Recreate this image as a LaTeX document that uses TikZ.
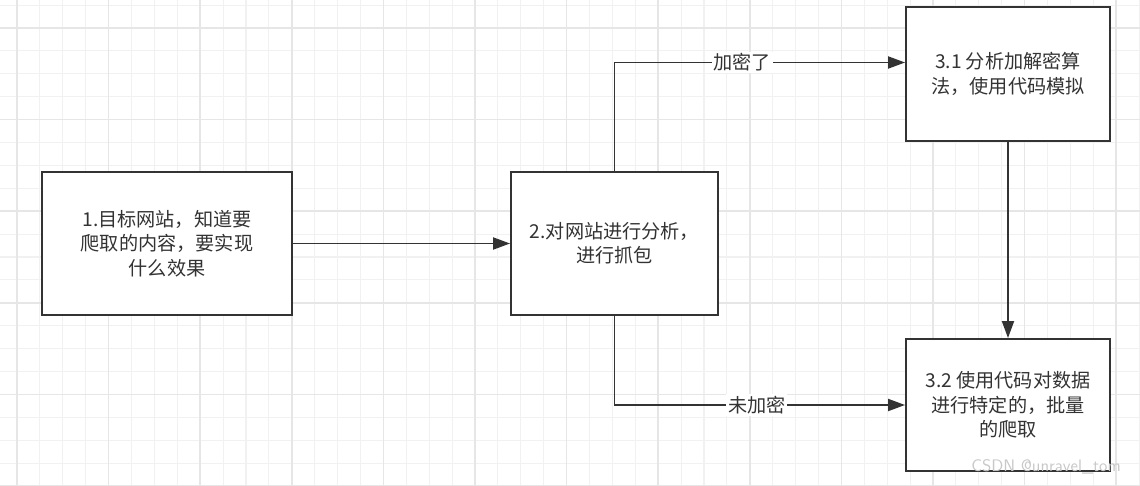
\documentclass[tikz,border=0pt]{standalone}
\usepackage{fontspec}
\newfontfamily\cjk{Noto Sans CJK SC}
\usepackage{tikz}
\usetikzlibrary{arrows.meta}

\definecolor{ink}{HTML}{333333}
\definecolor{gridminor}{HTML}{F1F1F1}
\definecolor{gridmajor}{HTML}{E6E6E6}
\definecolor{mark}{HTML}{C8C8C8}

\tikzset{
  procbox/.style={draw=ink, line width=1.1pt, fill=white, align=center, text=ink,
    font=\cjk\fontsize{10.9}{13.9}\selectfont, inner sep=0pt},
  flow/.style={draw=ink, line width=1.1pt, -{Triangle[length=0.34cm,width=0.24cm]}},
  tag/.style={fill=white, text=ink, font=\cjk\fontsize{10.9}{12}\selectfont, inner sep=1pt},
  minorline/.style={draw=gridminor, line width=0.6pt},
  majorline/.style={draw=gridmajor, line width=0.9pt}
}

\begin{document}
\begin{tikzpicture}[x=0.02cm, y=-0.02cm]
    \useasboundingbox (0,0) rectangle (1140,486);
    \fill[white] (0,0) rectangle (1140,486);
    % grid
    \foreach \i in {-1,...,49} \draw[minorline] ({17+22.9*\i},0) -- ++(0,486);
    \foreach \i in {-1,...,20} \draw[minorline] (0,{28+22.9*\i}) -- ++(1140,0);
    \foreach \i in {0,...,12} \draw[majorline] ({17+91.6*\i},0) -- ++(0,486);
    \foreach \i in {0,...,5} \draw[majorline] (0,{28+91.6*\i}) -- ++(1140,0);

    \node[procbox, minimum width=5cm, minimum height=2.86cm] (target) at (167, 243.5)
      {1.目标网站，知道要\\爬取的内容，要实现\\什么效果};
    \node[procbox, minimum width=4.14cm, minimum height=2.86cm] (analyse) at (614.5, 243.5)
      {2.对网站进行分析，\\进行抓包};
    \node[procbox, minimum width=4.08cm, minimum height=2.68cm] (decrypt) at (1008, 74)
      {3.1 分析加解密算\\法，使用代码模拟};
    \node[procbox, minimum width=4.08cm, minimum height=2.64cm] (crawl) at (1008, 405)
      {3.2 使用代码对数据\\进行特定的，批量\\的爬取};
    \coordinate (encin) at ([yshift=0.23cm]decrypt.west);

    \draw [flow] (target) to (analyse);
    \draw [flow] (analyse.north) |- node[tag, pos=0.72] {加密了} (encin);
    \draw [flow] (analyse.south) |- node[tag, pos=0.745] {未加密} (crawl.west);
    \draw [flow] (decrypt) to (crawl);

    \node[text=mark, font=\fontsize{9.5}{11}\selectfont\sffamily, anchor=east] (sign) at (1127, 467) {CSDN @unravel\_tom};
  \end{tikzpicture}
\end{document}
